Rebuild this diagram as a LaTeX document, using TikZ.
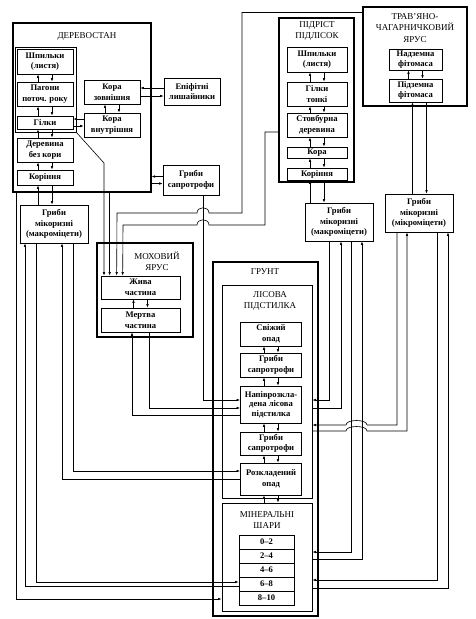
\documentclass[tikz,border=0pt]{standalone}
\usepackage{fontspec}
\setmainfont{Liberation Serif}
\usetikzlibrary{arrows.meta, calc}
\tikzset{
  >={Latex[length=3.6pt,width=2.6pt]},
  box/.style={draw, line width=0.7pt, fill=white, align=center, inner sep=0.5pt,
    font=\fontsize{8.6}{10.6}\selectfont\bfseries},
  grp/.style={draw, line width=1.1pt, inner sep=0pt},
  sub/.style={draw, line width=0.8pt, inner sep=0pt},
  ttl/.style={align=center, inner sep=0pt, font=\fontsize{9}{11.5}\selectfont},
  arr/.style={->, line width=0.6pt},
}

\begin{document}
\begin{tikzpicture}[x=1pt, y=-1pt]
  \useasboundingbox (0,0) rectangle (476,619);

  % group frames
  \node[grp, minimum width=138, minimum height=169] (der) at (82,107.5) {};
  \node[sub, minimum width=61, minimum height=85] (derIn) at (45.5,89.5) {};
  \node[grp, minimum width=75, minimum height=164] (pid) at (316.5,100) {};
  \node[grp, minimum width=104, minimum height=99] (tr) at (415,56.5) {};
  \node[grp, minimum width=96, minimum height=94] (moh) at (145,290) {};
  \node[grp, minimum width=105, minimum height=354] (gr) at (265.5,439) {};
  \node[sub, minimum width=90, minimum height=213] (lis) at (267,391.5) {};
  \node[sub, minimum width=90, minimum height=108] (min) at (267,557) {};

  % titles
  \node[ttl] (derT) at (87,36) {ДЕРЕВОСТАН};
  \node[ttl] (pidT) at (317,31) {ПІДРІСТ\\ПІДЛІСОК};
  \node[ttl] (trT) at (415,28) {ТРАВ’ЯНО-\\ЧАГАРНИЧКОВИЙ\\ЯРУС};
  \node[ttl] (mohT) at (157,261) {МОХОВИЙ\\ЯРУС};
  \node[ttl] (grT) at (265,272) {ГРУНТ};
  \node[ttl] (lisT) at (270,301) {ЛІСОВА\\ПІДСТИЛКА};
  \node[ttl] (minT) at (267,520) {МІНЕРАЛЬНІ\\ШАРИ};

  % деревостан
  \node[box, minimum width=56, minimum height=25] (shp1) at (45,61.5) {Шпильки\\(листя)};
  \node[box, minimum width=56, minimum height=24] (pag) at (45,94) {Пагони\\поточ. року};
  \node[box, minimum width=56, minimum height=13] (gil) at (45,122.5) {Гілки};
  \node[box, minimum width=56, minimum height=24] (drv) at (45,150) {Деревина\\без кори};
  \node[box, minimum width=56, minimum height=15] (kor1) at (45,177.5) {Коріння};
  \node[box, minimum width=56, minimum height=24] (kz) at (112,92) {Кора\\зовнішня};
  \node[box, minimum width=56, minimum height=24] (kv) at (112,125) {Кора\\внутрішня};
  \node[box, minimum width=56, minimum height=27] (epi) at (192,91.5) {Епіфітні\\лишайники};
  \node[box, minimum width=56, minimum height=30] (gs1) at (191,180) {Гриби\\сапротрофи};
  \node[box, minimum width=68, minimum height=38] (gm1) at (54,224) {Гриби\\мікоризні\\(макроміцети)};

  % підріст
  \node[box, minimum width=60, minimum height=25] (shp2) at (317,59.5) {Шпильки\\(листя)};
  \node[box, minimum width=60, minimum height=24] (gt) at (317,94) {Гілки\\тонкі};
  \node[box, minimum width=60, minimum height=24] (stv) at (317,125) {Стовбурна\\деревина};
  \node[box, minimum width=60, minimum height=11] (kora2) at (317,152.5) {Кора};
  \node[box, minimum width=60, minimum height=12] (kor2) at (317,174) {Коріння};
  \node[box, minimum width=68, minimum height=38] (gm2) at (339,222) {Гриби\\мікоризні\\(макроміцети)};

  % трав'яний ярус
  \node[box, minimum width=53, minimum height=21] (nad) at (415.5,59.5) {Надземна\\фітомаса};
  \node[box, minimum width=53, minimum height=23] (pdz) at (415.5,90.5) {Підземна\\фітомаса};
  \node[box, minimum width=68, minimum height=38] (gm3) at (419,213) {Гриби\\мікоризні\\(мікроміцети)};

  % моховий ярус
  \node[box, minimum width=79, minimum height=23] (zh) at (140.5,287.5) {Жива\\частина};
  \node[box, minimum width=79, minimum height=24] (mt) at (140.5,320) {Мертва\\частина};

  % грунт
  \node[box, minimum width=61, minimum height=24] (svz) at (271,334) {Свіжий\\опад};
  \node[box, minimum width=61, minimum height=24] (gs2) at (271,365) {Гриби\\сапротрофи};
  \node[box, minimum width=61, minimum height=37, font=\fontsize{8.6}{9.4}\selectfont\bfseries] (npv) at (271,404.5) {Напіврозкла-\\дена лісова\\підстилка};
  \node[box, minimum width=61, minimum height=23] (gs3) at (271,443.5) {Гриби\\сапротрофи};
  \node[box, minimum width=61, minimum height=32] (roz) at (271,479) {Розкладений\\опад};
  \foreach \i/\t in {1/0–2, 2/2–4, 3/4–6, 4/6–8, 5/8–10}
    \node[box, minimum width=55, minimum height=14] (l\i) at (266.5,{528+14*\i}) {\t};

  % paired arrows in the stacks
  \foreach \a/\b in {shp1/pag, pag/gil, gil/drv, drv/kor1, kz/kv, kor1/gm1,
      shp2/gt, gt/stv, stv/kora2, kora2/kor2, kor2/gm2, nad/pdz, zh/mt,
      svz/gs2, gs2/npv, npv/gs3, gs3/roz, roz/min} {
    \draw[arr] ($(\a.south |- \b.north)+(-7,0)$) -- ($(\a.south)+(-7,0)$);
    \draw[arr] ($(\a.south)+(7,0)$) -- ($(\a.south |- \b.north)+(7,0)$);
  }
  \draw[arr] ($(pdz.south |- gm3.north)+(-3,0)$) -- ($(pdz.south)+(-3,0)$);
  \draw[arr] ($(pdz.south)+(11,0)$) -- ($(pdz.south |- gm3.north)+(11,0)$);

  % side pairs
  \draw[arr] ($(kz.east -| epi.west)+(0,-4)$) -- ($(kz.east)+(0,-4)$);
  \draw[arr] ($(kz.east)+(0,4)$) -- ($(kz.east -| epi.west)+(0,4)$);
  \draw[arr] ($(gil.east -| kv.west)+(0,-3.5)$) -- ($(gil.east)+(0,-3.5)$);
  \draw[arr] ($(gil.east)+(0,3.5)$) -- ($(gil.east -| kv.west)+(0,3.5)$);
  \draw[arr] ($(gs1.west)+(0,-3.5)$) -- ($(gs1.west -| der.east)+(0,-3.5)$);
  \draw[arr] ($(gs1.west -| der.east)+(0,3.5)$) -- ($(gs1.west)+(0,3.5)$);

  % into the moss layer
  \coordinate (kink) at (104,163);
  \draw[arr] (derIn.south east) -- (kink) -- (kink |- zh.north);
  \draw[arr] ($(zh.north west |- der.south)+(9,0)$) -- ($(zh.north west)+(9,0)$);
  \draw[arr] ($(tr.north west)+(0,6)$) -| (242,213) -- (209,213)
    .. controls (209,206) and (197,206) .. (197,213) -- (117,213)
    -- ($(zh.north west)+(16,0)$);
  \draw[arr] ($(pid.west)+(0,32)$) -| (265,225) -- (209,225)
    .. controls (209,218) and (197,218) .. (197,225) -- (123,225)
    -- ($(zh.north west)+(22,0)$);

  % into the litter
  \draw[arr] ($(gs1.south)+(12,0)$) |- ($(npv.west)+(0,-4.5)$);
  \draw[arr] ($(mt.south)+(8.5,0)$) |- ($(npv.west)+(0,3.5)$);
  \draw[arr] ($(npv.west)+(0,11)$) -| ($(mt.south)+(-8.5,0)$);

  % left mycorrhiza
  \draw[arr] ($(gm1.south)+(19,0)$) |- ($(roz.west)+(0,-8)$);
  \draw[arr] (roz.west) -| ($(gm1.south)+(8,0)$);
  \draw[arr] ($(gm1.south)+(-18,0)$) |- ($(l4.west)+(0,-2)$);
  \draw[arr] ($(l4.west)+(0,2)$) -| ($(gm1.south)+(-29,0)$);
  \draw[arr] ($(der.south west)+(4,0)$) |- ($(min.west)+(0,42)$);

  % right mycorrhiza (macro)
  \draw[arr] ($(gm2.south)+(-10,0)$) |- ($(lis.east)+(0,8.5)$);
  \draw[arr] ($(lis.east)+(0,16.5)$) -| ($(gm2.south)+(2,0)$);
  \draw[arr] ($(gm2.south)+(12,0)$) |- ($(min.east)+(0,-5)$);
  \draw[arr] ($(min.east)+(0,2)$) -| ($(gm2.south)+(23,0)$);

  % right mycorrhiza (micro)
  \draw[arr] ($(gm3.south)+(-22,0)$) |- (367,425)
    .. controls (367,419) and (346,419) .. (346,425) -- ($(lis.east)+(0,33.5)$);
  \draw[arr] ($(lis.east)+(0,39.5)$) -- (346,431)
    .. controls (346,425) and (367,425) .. (367,431) -| ($(gm3.south)+(-12,0)$);
  \draw[arr] ($(gm3.south)+(18,0)$) |- ($(min.east)+(0,23)$);
  \draw[arr] ($(min.east)+(0,31)$) -| ($(gm3.south)+(29,0)$);
\end{tikzpicture}
\end{document}
